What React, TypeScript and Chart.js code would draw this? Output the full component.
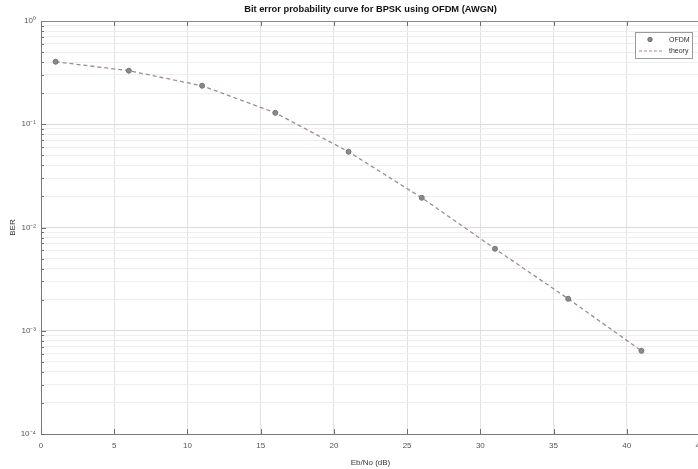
import React, { useEffect, useRef } from "react";
import { Chart, registerables } from "chart.js";

Chart.register(...registerables);

const TITLE = "Bit error probability curve for BPSK using OFDM (AWGN)";
const X_LABEL = "Eb/No (dB)";
const Y_LABEL = "BER";
const SERIES_OFDM = "OFDM";
const SERIES_THEORY = "theory";

const ebNo = [1, 6, 11, 16, 21, 26, 31, 36, 41];
const berOfdm = [0.403, 0.33, 0.236, 0.129, 0.0542, 0.0194, 0.00622, 0.00204, 0.00064];
const berTheory = [0.403, 0.33, 0.236, 0.129, 0.0542, 0.0194, 0.00622, 0.00204, 0.00064];

const xTicks = [0, 5, 10, 15, 20, 25, 30, 35, 40, 45];
const yDecades = [1e-4, 1e-3, 1e-2, 1e-1, 1];
const yDecadeLabels = ["10⁻⁴", "10⁻³", "10⁻²", "10⁻¹", "10⁰"];
const yMinorMultipliers = [2, 3, 4, 5, 6, 7, 8, 9];

const FONT = "'Liberation Sans', Arial, Helvetica, sans-serif";

function isMajor(v: number) {
  return yDecades.some((d) => Math.abs(v - d) / d < 1e-6);
}

function allYTicks() {
  const t: number[] = [];
  yDecades.forEach((d, i) => {
    t.push(d);
    if (i < yDecades.length - 1) yMinorMultipliers.forEach((m) => t.push(d * m));
  });
  return t.sort((a, b) => a - b);
}

const decorPlugin = {
  id: "decor",
  afterDatasetsDraw(chart: any) {
    const { ctx, chartArea, scales } = chart;
    const xs = scales.x;
    const ys = scales.y;
    ctx.save();
    ctx.strokeStyle = "#6f6f6f";
    ctx.lineWidth = 1;
    allYTicks().forEach((v) => {
      const py = Math.round(ys.getPixelForValue(v)) + 0.5;
      const len = isMajor(v) ? 5 : 3;
      ctx.beginPath();
      ctx.moveTo(chartArea.left, py);
      ctx.lineTo(chartArea.left + len, py);
      ctx.stroke();
    });
    xTicks.forEach((v) => {
      const px = Math.round(xs.getPixelForValue(v)) + 0.5;
      ctx.beginPath();
      ctx.moveTo(px, chartArea.bottom);
      ctx.lineTo(px, chartArea.bottom - 5);
      ctx.moveTo(px, chartArea.top);
      ctx.lineTo(px, chartArea.top + 5);
      ctx.stroke();
    });
    ctx.strokeStyle = "#8a8a8a";
    ctx.beginPath();
    ctx.moveTo(chartArea.left, chartArea.top + 0.5);
    ctx.lineTo(chartArea.right, chartArea.top + 0.5);
    ctx.stroke();

    // title centred on the plot area
    ctx.fillStyle = "#111111";
    ctx.font = `bold 9.3px ${FONT}`;
    ctx.textAlign = "center";
    ctx.textBaseline = "middle";
    ctx.fillText(TITLE, (chartArea.left + chartArea.right) / 2, 9);

    // legend
    const lx = 635, ly = 32, lw = 57, lh = 26;
    ctx.fillStyle = "#ffffff";
    ctx.fillRect(lx, ly, lw, lh);
    ctx.strokeStyle = "#9a9a9a";
    ctx.strokeRect(lx + 0.5, ly + 0.5, lw, lh);
    ctx.fillStyle = "#8a8a8a";
    ctx.strokeStyle = "#707070";
    ctx.beginPath();
    ctx.arc(650, 39.5, 2.2, 0, Math.PI * 2);
    ctx.fill();
    ctx.stroke();
    ctx.strokeStyle = "#a08c8c";
    ctx.lineWidth = 1.2;
    ctx.setLineDash([3, 2]);
    ctx.beginPath();
    ctx.moveTo(639, 51);
    ctx.lineTo(662, 51);
    ctx.stroke();
    ctx.setLineDash([]);
    ctx.fillStyle = "#333333";
    ctx.font = `7px ${FONT}`;
    ctx.textBaseline = "middle";
    ctx.textAlign = "left";
    ctx.fillText(SERIES_OFDM, 669, 40);
    ctx.fillText(SERIES_THEORY, 669, 51);
    ctx.restore();
  },
};

export default function App() {
  const canvasRef = useRef<HTMLCanvasElement | null>(null);

  useEffect(() => {
    const canvas = canvasRef.current;
    if (!canvas) return;
    const chart = new Chart(canvas, {
      type: "line",
      data: {
        datasets: [
          {
            label: SERIES_OFDM,
            data: ebNo.map((x, i) => ({ x, y: berOfdm[i] })),
            showLine: false,
            pointStyle: "circle",
            pointRadius: 2.5,
            pointBackgroundColor: "#8a8a8a",
            pointBorderColor: "#747474",
            pointBorderWidth: 1,
          },
          {
            label: SERIES_THEORY,
            data: ebNo.map((x, i) => ({ x, y: berTheory[i] })),
            borderColor: "#a08c8c",
            borderWidth: 1.3,
            borderDash: [4, 3],
            pointRadius: 0,
            fill: false,
          },
        ],
      },
      options: {
        animation: false,
        responsive: false,
        devicePixelRatio: 1,
        layout: { padding: { left: 0, right: 4, top: 21, bottom: 0 } },
        plugins: {
          legend: { display: false },
          tooltip: { enabled: false },
          title: { display: false },
        },
        scales: {
          x: {
            type: "linear",
            min: 0,
            max: 45,
            afterBuildTicks: (s: any) => {
              s.ticks = xTicks.map((v) => ({ value: v }));
            },
            afterFit: (s: any) => {
              s.height = 35;
              s.paddingLeft = 0;
              s.paddingRight = 0;
            },
            ticks: {
              autoSkip: false,
              maxRotation: 0,
              padding: 7,
              color: "#555555",
              font: { family: FONT, size: 8 },
              callback: (v: any) => String(v),
            },
            grid: { color: "#e2e2e2", drawTicks: false, lineWidth: 1 },
            border: { display: true, color: "#7a7a7a" },
            title: {
              display: true,
              text: X_LABEL,
              color: "#333333",
              font: { family: FONT, size: 8 },
              padding: { top: 0, bottom: 1 },
            },
          },
          y: {
            type: "logarithmic",
            min: 1e-4,
            max: 1,
            afterBuildTicks: (s: any) => {
              s.ticks = allYTicks().map((v) => ({ value: v, major: isMajor(v) }));
            },
            afterFit: (s: any) => {
              s.width = 41;
              s.paddingTop = 0;
              s.paddingBottom = 0;
            },
            ticks: {
              autoSkip: false,
              padding: 5,
              color: "#555555",
              font: { family: FONT, size: 8 },
              callback: (v: any) => {
                const idx = yDecades.findIndex((d) => Math.abs(v - d) / d < 1e-6);
                return idx >= 0 ? yDecadeLabels[idx] : "";
              },
            },
            grid: {
              drawTicks: false,
              lineWidth: 1,
              color: (c: any) => (c.tick && isMajor(c.tick.value) ? "#dcdcdc" : "#eeeeee"),
            },
            border: { display: true, color: "#7a7a7a" },
            title: {
              display: true,
              text: Y_LABEL,
              color: "#333333",
              font: { family: FONT, size: 8 },
              padding: { top: 8, bottom: 0 },
            },
          },
        },
      },
      plugins: [decorPlugin],
    } as any);
    return () => chart.destroy();
  }, []);

  return (
    <div
      style={{
        position: "fixed",
        left: 0,
        top: 0,
        width: 698,
        height: 469,
        overflow: "hidden",
        background: "#ffffff",
      }}
    >
      <canvas ref={canvasRef} width={705} height={469} style={{ width: 705, height: 469, display: "block" }} />
    </div>
  );
}
